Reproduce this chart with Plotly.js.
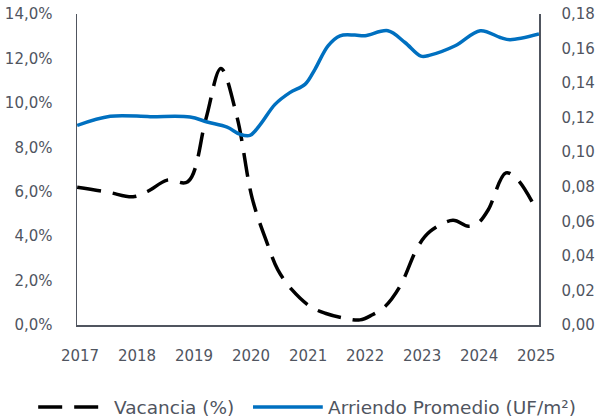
<!DOCTYPE html>
<html>
<head>
<meta charset="utf-8">
<script src="https://cdn.plot.ly/plotly-3.0.1.min.js"></script>
<style>html,body{margin:0;padding:0;background:#fff}#chart{width:600px;height:420px}</style>
</head>
<body>
<div id="chart"></div>
<script>
// Vacancia (%) — x in decimal years
const vacX = [2016.95, 2017.49, 2017.93, 2018.19, 2018.53, 2018.89, 2019.21, 2019.47, 2019.75, 2020.02, 2020.28, 2020.47, 2020.72, 2021.04, 2021.30, 2021.65, 2021.91, 2022.12, 2022.35, 2022.61, 2022.93, 2023.14, 2023.54, 2023.81, 2023.98, 2024.16, 2024.47, 2024.67, 2024.98];
const vacY = [6.2, 5.98, 5.77, 6.02, 6.52, 6.45, 9.3, 11.55, 9.4, 5.7, 3.7, 2.48, 1.58, 0.83, 0.53, 0.3, 0.23, 0.45, 0.83, 1.73, 3.54, 4.21, 4.71, 4.44, 4.59, 5.19, 6.85, 6.55, 5.3];

// Arriendo Promedio (UF/m²)
const arrX = [2016.95, 2017.53, 2018.23, 2018.93, 2019.23, 2019.58, 2019.81, 2019.98, 2020.16, 2020.42, 2020.68, 2020.95, 2021.12, 2021.35, 2021.56, 2021.82, 2022.0, 2022.40, 2022.70, 2022.98, 2023.14, 2023.58, 2024.02, 2024.37, 2024.54, 2025.05];
const arrY = [0.1155, 0.1208, 0.1206, 0.1204, 0.1175, 0.1145, 0.1103, 0.1097, 0.116, 0.1277, 0.1345, 0.1394, 0.148, 0.1616, 0.1674, 0.1678, 0.1674, 0.1703, 0.1635, 0.1556, 0.1562, 0.1616, 0.1703, 0.1664, 0.1651, 0.1684];

const yearTicks = [2017, 2018, 2019, 2020, 2021, 2022, 2023, 2024, 2025];
const leftTicks = [0, 2, 4, 6, 8, 10, 12, 14];
const rightTicks = [0, 0.02, 0.04, 0.06, 0.08, 0.10, 0.12, 0.14, 0.16, 0.18];
const seriesNames = ["Vacancia (%)", "Arriendo Promedio (UF/m²)"];

const fmtComma = (v, d) => v.toFixed(d).replace(".", ",");

const tickFont = {family: "DejaVu Sans, sans-serif", size: 15, color: "#50555f"};
const legendFont = {family: "DejaVu Sans, sans-serif", size: 18.5, color: "#50555f"};
const axisColor = "#50555f";
const vacLine = {color: "#000000", width: 3.5, dash: "24px,12px"};
const arrLine = {color: "#0070C0", width: 3.5};

const traces = [
  {
    x: vacX, y: vacY, name: seriesNames[0], type: "scatter", mode: "lines",
    line: Object.assign({shape: "spline", smoothing: 1}, vacLine),
    yaxis: "y", hoverinfo: "skip"
  },
  {
    x: arrX, y: arrY, name: seriesNames[1], type: "scatter", mode: "lines",
    line: Object.assign({shape: "spline", smoothing: 1}, arrLine),
    yaxis: "y2", hoverinfo: "skip"
  }
];

// Legend drawn in paper coordinates (plot area: 462 x 311 px)
const legY = -0.264;
const shapes = [
  {type: "line", xref: "paper", yref: "paper", x0: -0.084, x1: 0.050, y0: legY, y1: legY, line: vacLine},
  {type: "line", xref: "paper", yref: "paper", x0: 0.381, x1: 0.532, y0: legY, y1: legY, line: arrLine}
];
const annotations = [
  {xref: "paper", yref: "paper", x: 0.076, y: legY, xanchor: "left", yanchor: "middle", showarrow: false, text: seriesNames[0], font: legendFont},
  {xref: "paper", yref: "paper", x: 0.539, y: legY, xanchor: "left", yanchor: "middle", showarrow: false, text: seriesNames[1], font: legendFont}
];

const layout = {
  width: 600, height: 420,
  margin: {l: 77, r: 61, t: 14, b: 95},
  paper_bgcolor: "#ffffff", plot_bgcolor: "#ffffff",
  font: tickFont,
  showlegend: false,
  shapes: shapes,
  annotations: annotations,
  xaxis: {
    range: [2016.947, 2025.05], tickmode: "array", tickvals: yearTicks, ticktext: yearTicks.map(String),
    showgrid: false, zeroline: false, showline: true, linecolor: axisColor, linewidth: 1.5,
    ticks: "", ticklabelstandoff: 16, tickfont: tickFont
  },
  yaxis: {
    range: [0, 14], tickmode: "array", tickvals: leftTicks, ticktext: leftTicks.map(v => fmtComma(v, 1) + "%"),
    showgrid: false, zeroline: false, showline: true, linecolor: axisColor, linewidth: 1.5,
    ticks: "", ticklabelstandoff: 20, tickfont: tickFont
  },
  yaxis2: {
    range: [0, 0.18], overlaying: "y", side: "right", tickmode: "array", tickvals: rightTicks, ticktext: rightTicks.map(v => fmtComma(v, 2)),
    showgrid: false, zeroline: false, showline: true, linecolor: axisColor, linewidth: 1.5,
    ticks: "", ticklabelstandoff: 18, tickfont: tickFont
  }
};

Plotly.newPlot("chart", traces, layout, {staticPlot: true, displayModeBar: false});
</script>
</body>
</html>
